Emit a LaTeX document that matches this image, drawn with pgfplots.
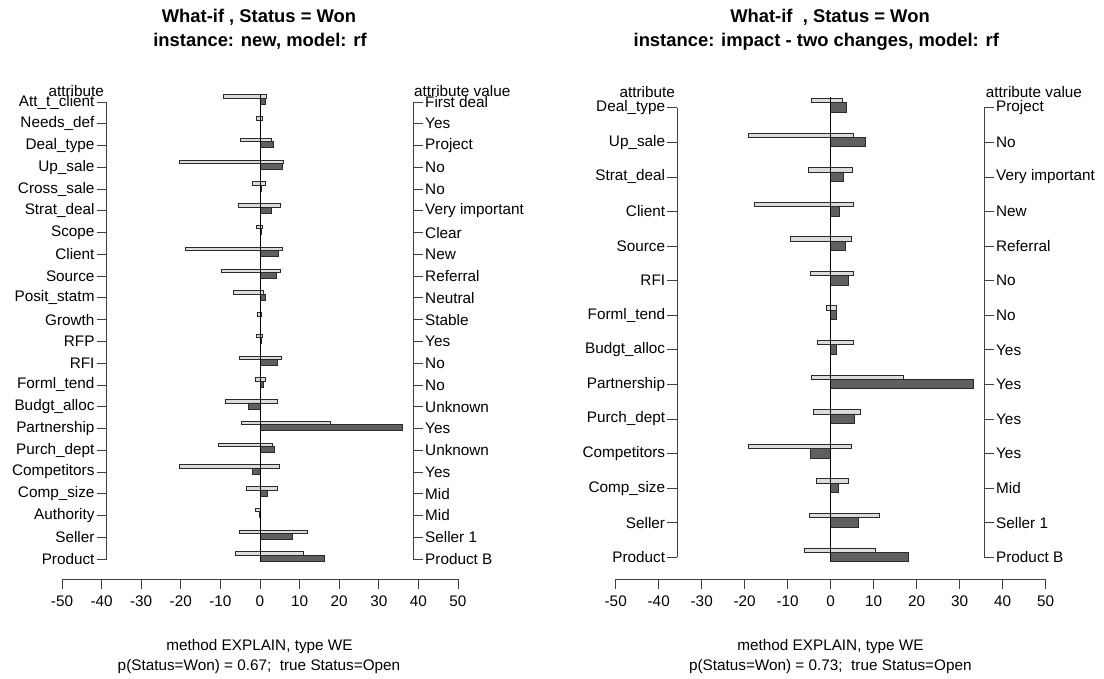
\documentclass[border=0pt]{standalone}
\usepackage{fontspec}
\setmainfont{Liberation Sans}
\usepackage{pgfplots}
\pgfplotsset{compat=1.18}
\usepackage{pgfplotstable}
\definecolor{lightbar}{HTML}{DCDCDC}
\definecolor{darkbar}{HTML}{5F5F5F}
\definecolor{edge}{HTML}{2A2A2A}
\definecolor{axcol}{HTML}{404040}

\pgfplotstableread{
y neg pos val
22 -9.3 1.6 1.4
21 -0.9 0.7 0.2
20 -4.9 2.9 3.4
19 -20.3 6.0 5.6
18 -1.9 1.4 0.3
17 -5.4 5.1 2.9
16 -0.9 0.7 0.4
15 -18.8 5.6 4.6
14 -9.8 5.1 4.1
13 -6.8 0.9 1.4
12 -0.6 0.4 0.1
11 -0.9 0.7 0.3
10 -5.1 5.4 4.3
9 -1.1 1.4 0.9
8 -8.8 4.4 -2.9
7 -4.6 17.8 35.9
6 -10.4 3.1 3.6
5 -20.3 4.9 -1.9
4 -3.4 4.4 1.8
3 -1.1 0.0 -0.2
2 -5.1 12.0 8.2
1 -6.3 11.0 16.3
}\leftdata

\pgfplotstableread{
y neg pos val
14 -4.6 2.6 3.6
13 -19.2 5.3 8.0
12 -5.3 5.0 3.0
11 -17.8 5.2 1.9
10 -9.4 4.7 3.3
9 -4.8 5.2 4.2
8 -1.1 1.2 1.2
7 -3.2 5.3 1.2
6 -4.6 16.8 33.1
5 -4.1 7.0 5.6
4 -19.2 4.7 -4.8
3 -3.4 4.0 1.7
2 -5.0 11.4 6.5
1 -6.2 10.3 18.1
}\rightdata

\pgfplotsset{
  rstyle/.style={
    tick align=outside, major tick length=10pt,
    every tick/.style={line width=0.8pt, color=axcol},
    axis line style={line width=0.8pt, color=axcol},
    tick label style={font=\fontsize{15.3}{18}\selectfont, text=black},
    yticklabel style={inner sep=2pt},
    xticklabel style={yshift=-2pt},
  },
  lightb/.style={xbar, fill=lightbar, draw=edge, line width=0.7pt},
  darkb/.style={xbar, fill=darkbar, draw=edge, line width=0.7pt},
}

\begin{document}
\fontsize{15.3}{18}\selectfont
\begin{tikzpicture}
\path[use as bounding box] (0pt,0pt) rectangle (1104pt,679pt);

% ---------------- LEFT PANEL ----------------
\begin{axis}[rstyle,
  at={(62pt,100pt)}, anchor=south west,
  x=3.96pt, y=21.76pt,
  xmin=-50, xmax=50, ymin=0.081, ymax=22.5,
  axis x line*=bottom, axis y line=none,
  xtick={-50,-40,...,50},
  xticklabels={-50,-40,-30,-20,-10,0,10,20,30,40,50},
]
\addplot[lightb, bar width=3.5pt, bar shift=5.5pt] table[x=neg,y=y] {\leftdata};
\addplot[lightb, bar width=3.5pt, bar shift=5.5pt] table[x=pos,y=y] {\leftdata};
\addplot[darkb, bar width=6pt, bar shift=0.8pt] table[x=val,y=y] {\leftdata};
\addplot[black, line width=0.8pt] coordinates {(0,0.908) (0,22.37)};
\end{axis}

\begin{axis}[rstyle,
  at={(106.7pt,120pt)}, anchor=south west,
  x=3.96pt, y=21.76pt,
  xmin=-38.64, xmax=38.71, ymin=1, ymax=22,
  axis x line=none, axis y line*=left,
  ytick={1,...,22},
  yticklabels={Product,Seller,Authority,Comp\_size,Competitors,Purch\_dept,Partnership,Budgt\_alloc,Forml\_tend,RFI,RFP,Growth,Posit\_statm,Source,Client,Scope,Strat\_deal,Cross\_sale,Up\_sale,Deal\_type,Needs\_def,Att\_t\_client},
]
\end{axis}

\begin{axis}[rstyle,
  at={(106.7pt,120pt)}, anchor=south west,
  x=3.96pt, y=21.76pt,
  xmin=-38.64, xmax=38.71, ymin=1, ymax=22,
  axis x line=none, axis y line*=right,
  ytick={1,...,22},
  yticklabels={Product B,Seller 1,Mid,Mid,Yes,Unknown,Yes,Unknown,No,No,Yes,Stable,Neutral,Referral,New,Clear,Very important,No,No,Project,Yes,First deal},
]
\end{axis}

\node[anchor=east, inner sep=0pt] at (104pt,587.5pt) {attribute};
\node[anchor=west, inner sep=0pt] at (414pt,587.5pt) {attribute value};
\node[font=\fontsize{18.4}{22}\selectfont\bfseries] at (259pt,661.5pt) {What-if , Status = Won};
\node[font=\fontsize{18.4}{22}\selectfont\bfseries] at (260pt,637.3pt) {instance: new, model: rf};
\node at (259.5pt,32.3pt) {method EXPLAIN, type WE};
\node at (259pt,12.3pt) {p(Status=Won) = 0.67;\ \ true Status=Open};

% ---------------- RIGHT PANEL ----------------
\begin{axis}[rstyle,
  at={(615.7pt,100pt)}, anchor=south west,
  x=4.3pt, y=34.58pt,
  xmin=-50, xmax=50, ymin=0.372, ymax=14.5,
  axis x line*=bottom, axis y line=none,
  xtick={-50,-40,...,50},
  xticklabels={-50,-40,-30,-20,-10,0,10,20,30,40,50},
]
\addplot[lightb, bar width=4.4pt, bar shift=7.2pt] table[x=neg,y=y] {\rightdata};
\addplot[lightb, bar width=4.4pt, bar shift=7.2pt] table[x=pos,y=y] {\rightdata};
\addplot[darkb, bar width=9.4pt, bar shift=0.3pt] table[x=val,y=y] {\rightdata};
\addplot[black, line width=0.8pt] coordinates {(0,0.90) (0,14.30)};
\end{axis}

\begin{axis}[rstyle,
  at={(677.3pt,121.7pt)}, anchor=south west,
  x=4.3pt, y=34.58pt,
  xmin=-35.67, xmax=35.65, ymin=1, ymax=14,
  axis x line=none, axis y line*=left,
  ytick={1,...,14},
  yticklabels={Product,Seller,Comp\_size,Competitors,Purch\_dept,Partnership,Budgt\_alloc,Forml\_tend,RFI,Source,Client,Strat\_deal,Up\_sale,Deal\_type},
]
\end{axis}

\begin{axis}[rstyle,
  at={(677.3pt,121.7pt)}, anchor=south west,
  x=4.3pt, y=34.58pt,
  xmin=-35.67, xmax=35.65, ymin=1, ymax=14,
  axis x line=none, axis y line*=right,
  ytick={1,...,14},
  yticklabels={Product B,Seller 1,Mid,Yes,Yes,Yes,Yes,No,No,Referral,New,Very important,No,Project},
]
\end{axis}

\node[anchor=east, inner sep=0pt] at (675pt,587pt) {attribute};
\node[anchor=west, inner sep=0pt] at (985.7pt,587pt) {attribute value};
\node[font=\fontsize{18.4}{22}\selectfont\bfseries] at (830pt,661.5pt) {What-if\ \ , Status = Won};
\node[font=\fontsize{18.4}{22}\selectfont\bfseries] at (816.3pt,637.3pt) {instance: impact - two changes, model: rf};
\node at (830.5pt,32.3pt) {method EXPLAIN, type WE};
\node at (830.3pt,12.3pt) {p(Status=Won) = 0.73;\ \ true Status=Open};
\end{tikzpicture}
\end{document}
